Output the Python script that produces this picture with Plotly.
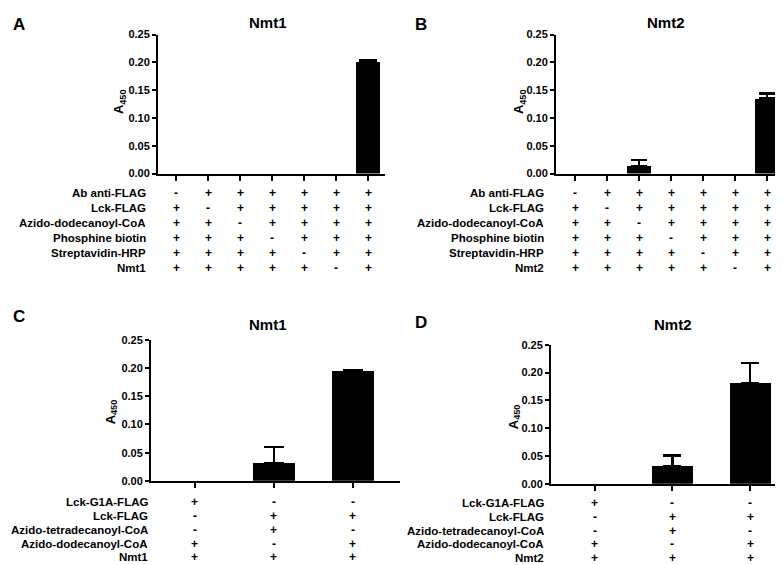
import plotly.graph_objects as go

W, H = 783, 565

# ---------------- data ----------------
rows_AB_A = ["Ab anti-FLAG", "Lck-FLAG", "Azido-dodecanoyl-CoA", "Phosphine biotin", "Streptavidin-HRP", "Nmt1"]
rows_AB_B = ["Ab anti-FLAG", "Lck-FLAG", "Azido-dodecanoyl-CoA", "Phosphine biotin", "Streptavidin-HRP", "Nmt2"]
signs_AB = [
    ["-", "+", "+", "+", "+", "+", "+"],
    ["+", "-", "+", "+", "+", "+", "+"],
    ["+", "+", "-", "+", "+", "+", "+"],
    ["+", "+", "+", "-", "+", "+", "+"],
    ["+", "+", "+", "+", "-", "+", "+"],
    ["+", "+", "+", "+", "+", "-", "+"],
]
vals_A = [0, 0, 0, 0, 0, 0, 0.201]
err_A = [0, 0, 0, 0, 0, 0, 0.003]
vals_B = [0, 0, 0.014, 0, 0, 0, 0.135]
err_B = [0, 0, 0.010, 0, 0, 0, 0.009]

rows_C = ["Lck-G1A-FLAG", "Lck-FLAG", "Azido-tetradecanoyl-CoA", "Azido-dodecanoyl-CoA", "Nmt1"]
rows_D = ["Lck-G1A-FLAG", "Lck-FLAG", "Azido-tetradecanoyl-CoA", "Azido-dodecanoyl-CoA", "Nmt2"]
signs_CD = [
    ["+", "-", "-"],
    ["-", "+", "+"],
    ["-", "+", "-"],
    ["+", "-", "+"],
    ["+", "+", "+"],
]
vals_C = [0, 0.032, 0.195]
err_C = [0, 0.028, 0.002]
vals_D = [0, 0.032, 0.182]
err_D = [0, 0.019, 0.036]

y_ticks = [0.0, 0.05, 0.10, 0.15, 0.20, 0.25]
y_ticktext = ["0.00", "0.05", "0.10", "0.15", "0.20", "0.25"]

FONT = "Liberation Sans, Arial, sans-serif"

panels = [
    dict(vals=vals_A, errs=err_A, x0=150, x1=377, yb=163, yt=21, xr=[-0.57, 6.53], bw=0.75, cap=9,
         title="Nmt1", tpos=(260, 9), letter="A", lpos=(3, 11), ytpos=(111, 90),
         rows=rows_AB_A, signs=signs_AB, row_y=[183, 198, 214, 229, 244, 260], lab_x=140),
    dict(vals=vals_B, errs=err_B, x0=548, x1=777, yb=163, yt=21, xr=[-0.6, 6.56], bw=0.75, cap=8,
         title="Nmt2", tpos=(658, 9), letter="B", lpos=(405, 11), ytpos=(511, 90),
         rows=rows_AB_B, signs=signs_AB, row_y=[183, 198, 214, 229, 244, 260], lab_x=538),
    dict(vals=vals_C, errs=err_C, x0=143, x1=392, yb=477, yt=333, xr=[-0.557, 2.6], bw=0.53, cap=10,
         title="Nmt1", tpos=(260, 317), letter="C", lpos=(3, 309), ytpos=(103, 407),
         rows=rows_C, signs=signs_CD, row_y=[499, 513, 527, 541, 555], lab_x=142),
    dict(vals=vals_D, errs=err_D, x0=543, x1=781, yb=480, yt=338, xr=[-0.564, 2.5], bw=0.53, cap=9,
         title="Nmt2", tpos=(665, 317), letter="D", lpos=(405, 315), ytpos=(506, 412),
         rows=rows_D, signs=signs_CD, row_y=[500, 514, 528, 542, 556], lab_x=538),
]

fig = go.Figure()
annotations = []
layout_axes = {}

for i, p in enumerate(panels, start=1):
    xa = "x" if i == 1 else f"x{i}"
    ya = "y" if i == 1 else f"y{i}"
    n = len(p["vals"])
    cats = list(range(n))
    errs = [e if e > 0 else None for e in p["errs"]]
    fig.add_trace(go.Bar(
        x=cats, y=[v if v > 0 else None for v in p["vals"]], xaxis=xa, yaxis=ya, width=p["bw"],
        marker=dict(color="black", line=dict(width=0)),
        error_y=dict(type="data", symmetric=False, array=errs, arrayminus=[0] * n,
                     color="black", thickness=2.2, width=p["cap"]),
        showlegend=False, hoverinfo="skip",
    ))
    xkey = "xaxis" if i == 1 else f"xaxis{i}"
    ykey = "yaxis" if i == 1 else f"yaxis{i}"
    layout_axes[xkey] = dict(
        domain=[p["x0"] / W, p["x1"] / W], anchor=ya, range=p["xr"],
        tickmode="array", tickvals=cats, showticklabels=False,
        ticks="outside", ticklen=5, tickwidth=2, tickcolor="black",
        showline=True, linecolor="black", linewidth=2, showgrid=False, zeroline=False,
        fixedrange=True,
    )
    layout_axes[ykey] = dict(
        domain=[1 - p["yb"] / H, 1 - p["yt"] / H], anchor=xa, range=[0, 0.25],
        tickmode="array", tickvals=y_ticks, ticktext=y_ticktext,
        ticks="outside", ticklen=4, tickwidth=2, tickcolor="black",
        tickfont=dict(family=FONT, size=11, color="black", weight="bold"),
        showline=True, linecolor="black", linewidth=2, showgrid=False, zeroline=False,
        fixedrange=True,
    )
    annotations.append(dict(text=f"<b>{p['title']}</b>", x=p["tpos"][0] / W, y=1 - p["tpos"][1] / H,
                            xref="paper", yref="paper", showarrow=False, xanchor="center", yanchor="middle",
                            font=dict(family=FONT, size=15, color="black")))
    annotations.append(dict(text=f"<b>{p['letter']}</b>", x=p["lpos"][0] / W, y=1 - p["lpos"][1] / H,
                            xref="paper", yref="paper", showarrow=False, xanchor="left", yanchor="middle",
                            font=dict(family=FONT, size=17, color="black")))
    annotations.append(dict(text="<b>A<sub>450</sub></b>", x=p["ytpos"][0] / W, y=1 - p["ytpos"][1] / H,
                            xref="paper", yref="paper", showarrow=False, xanchor="center", yanchor="middle",
                            textangle=-90, font=dict(family=FONT, size=13, color="black")))
    for r, (lab, ry) in enumerate(zip(p["rows"], p["row_y"])):
        annotations.append(dict(text=f"<b>{lab}</b>", x=p["lab_x"] / W, y=1 - ry / H,
                                xref="paper", yref="paper", showarrow=False, xanchor="right", yanchor="middle",
                                font=dict(family=FONT, size=11.5, color="black")))
        for c in range(n):
            annotations.append(dict(text=f"<b>{p['signs'][r][c]}</b>", x=c, y=1 - ry / H,
                                    xref=xa, yref="paper", showarrow=False, xanchor="center", yanchor="middle",
                                    font=dict(family=FONT, size=12, color="black")))

fig.update_layout(
    width=W, height=H, margin=dict(l=0, r=0, t=0, b=0),
    paper_bgcolor="white", plot_bgcolor="white",
    bargap=0, annotations=annotations, **layout_axes,
)

fig.write_html("out.html")
